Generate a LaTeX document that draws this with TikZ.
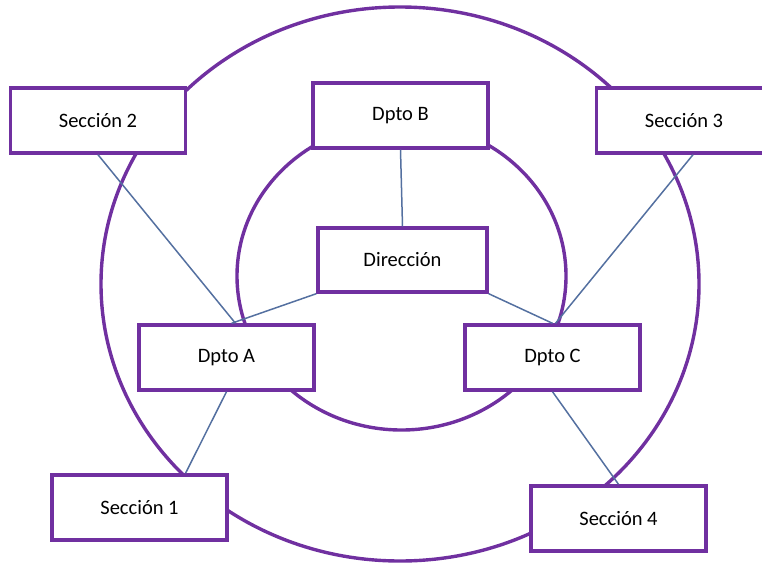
\documentclass[tikz,border=0pt]{standalone}
\usepackage{fontspec}
\setmainfont{Carlito}
\definecolor{ringpurple}{RGB}{112,48,160}
\definecolor{linkblue}{RGB}{84,112,160}
\tikzset{
    box/.style={draw=ringpurple, line width=3.4pt, fill=white, inner sep=0pt,
        minimum width=175pt, minimum height=65pt,
        font=\fontsize{20.5}{24}\selectfont},
    ring/.style={draw=ringpurple, line width=3.4pt},
    link/.style={draw=linkblue, line width=1.5pt}
}

\begin{document}
\begin{tikzpicture}[x=1pt,y=-1pt]
    \useasboundingbox (0,0) rectangle (762,562);
    \draw[ring] (400,284) ellipse [x radius=299pt, y radius=277pt];
    \draw[ring] (401.5,276) ellipse [x radius=164.5pt, y radius=154pt];

    \node[box] (sec2) at (98,120.5) {Sección 2};
    \node[box] (dptoB) at (400.5,115.5) {Dpto B};
    \node[box] (sec3) at (684,120.5) {Sección 3};
    \node[box, minimum width=169pt, minimum height=64pt] (dir) at (402.5,260) {Dirección};
    \node[box] (dptoA) at (226.5,357.5) {Dpto A};
    \node[box] (dptoC) at (552.5,357.5) {Dpto C};
    \node[box] (sec1) at (139.5,507.5) {Sección 1};
    \node[box] (sec4) at (618.5,518.5) {Sección 4};

    \draw[link] (sec2.south) -- ([xshift=9pt]dptoA.north);
    \draw[link] (dir.south west) -- ([xshift=5pt]dptoA.north);
    \draw[link] (dir.south east) -- (dptoC.north);
    \draw[link] ([xshift=9pt]sec3.south) -- ([xshift=3pt]dptoC.north);
    \draw[link] (dptoB.south) -- (dir.north);
    \draw[link] (dptoA.south) -- ([xshift=46pt]sec1.north);
    \draw[link] (dptoC.south) -- (sec4.north);
\end{tikzpicture}
\end{document}
